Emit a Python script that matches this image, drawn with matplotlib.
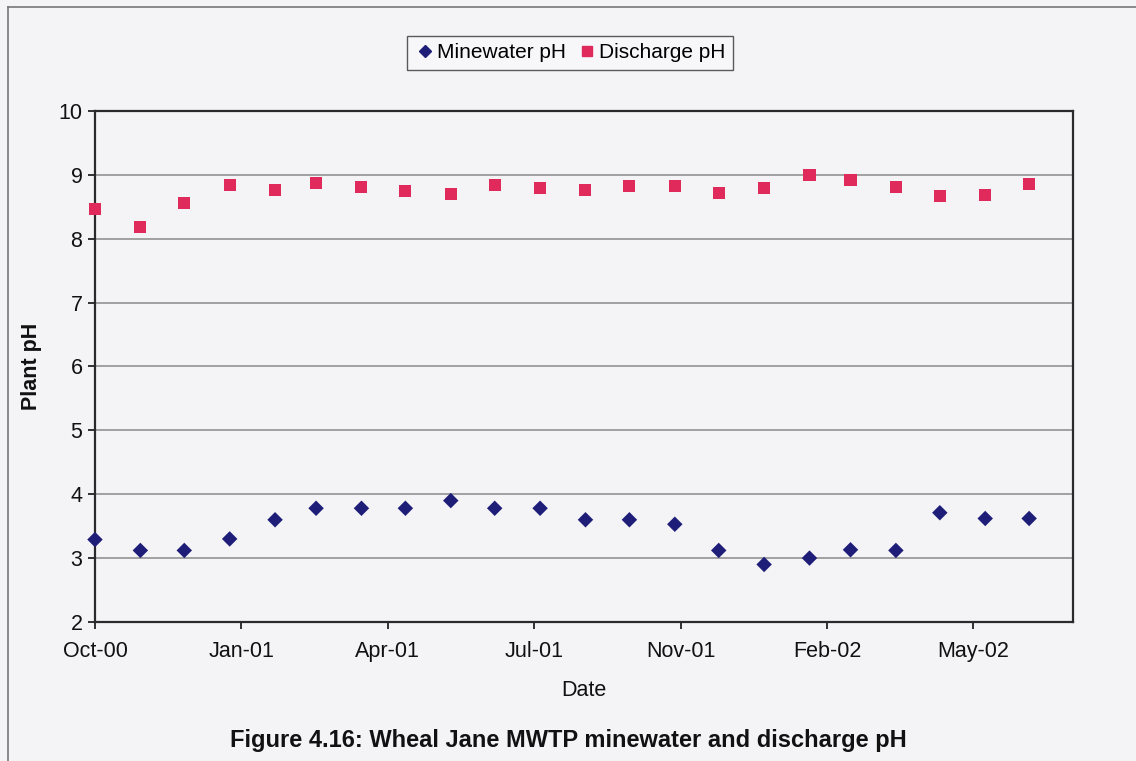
import datetime as dt
import matplotlib.pyplot as plt
import matplotlib.dates as mdates
from matplotlib.lines import Line2D

plt.rcParams['font.family'] = ['Liberation Sans', 'DejaVu Sans']

# monthly sampling, Oct 2000 - Jul 2002
months = [(2000, 10), (2000, 11), (2000, 12), (2001, 1), (2001, 2), (2001, 3),
          (2001, 4), (2001, 5), (2001, 6), (2001, 7), (2001, 8), (2001, 9),
          (2001, 10), (2001, 11), (2001, 12), (2002, 1), (2002, 2), (2002, 3),
          (2002, 4), (2002, 5), (2002, 6), (2002, 7)]
dates = [dt.date(y, m, 1) for y, m in months]

minewater_ph = [3.29, 3.12, 3.12, 3.30, 3.60, 3.78, 3.78, 3.78, 3.90, 3.78, 3.78,
                3.60, 3.60, 3.53, 3.12, 2.90, 3.00, 3.13, 3.12, 3.71, 3.62, 3.62]
discharge_ph = [8.46, 8.19, 8.56, 8.84, 8.77, 8.87, 8.81, 8.75, 8.70, 8.84, 8.79,
                8.76, 8.82, 8.82, 8.72, 8.79, 8.99, 8.92, 8.81, 8.67, 8.69, 8.86]

# axis runs from 1 Oct 2000 with a tick every 100 days
axis_start = dt.date(2000, 10, 1)
axis_end = axis_start + dt.timedelta(days=668)
tick_dates = [axis_start + dt.timedelta(days=100 * k) for k in range(7)]

bg = '#f4f3f6'
ink = '#111111'
fig = plt.figure(figsize=(11.36, 7.61), dpi=100, facecolor=bg)
ax = fig.add_axes([0.0836, 0.1827, 0.861, 0.6715], facecolor=bg)

ax.scatter(dates, minewater_ph, marker='D', s=62, color='#1e1e78', zorder=3,
           edgecolors='none', clip_on=False)
ax.scatter(dates, discharge_ph, marker='s', s=75, color='#e02a5c', zorder=3,
           edgecolors='none', clip_on=False)

ax.set_xlim(axis_start, axis_end)
ax.set_ylim(2, 10)
ax.set_yticks(range(2, 11))
ax.set_xticks(tick_dates)
ax.xaxis.set_major_formatter(mdates.DateFormatter('%b-%y'))
ax.grid(axis='y', color='#8a8a8a', linewidth=1.1)
ax.set_axisbelow(True)

for s in ax.spines.values():
    s.set_color('#2a2a2a')
    s.set_linewidth(1.6)

ax.tick_params(axis='both', labelsize=15.5, colors=ink, length=5,
               width=1.2, direction='out')
ax.tick_params(axis='x', pad=9)
ax.tick_params(axis='y', pad=4)

ax.set_xlabel('Date', fontsize=15.5, labelpad=13, color=ink)
ax.set_ylabel('Plant pH', fontsize=15.5, fontweight='bold', labelpad=12,
              color=ink)

handles = [
    Line2D([], [], marker='D', linestyle='none', color='#1e1e78', markersize=6),
    Line2D([], [], marker='s', linestyle='none', color='#e02a5c', markersize=7),
]
fig.legend(handles, ['Minewater pH', 'Discharge pH'], loc='center',
           bbox_to_anchor=(570 / 1136, 1 - 53 / 761), ncol=2, fontsize=15,
           frameon=True, fancybox=False, edgecolor='#333333', facecolor='#f8f8fa',
           handletextpad=0.1, columnspacing=0.5, borderpad=0.35, handlelength=1.0)

fig.text(568 / 1136, 1 - 740 / 761,
         'Figure 4.16: Wheal Jane MWTP minewater and discharge pH',
         ha='center', va='center', fontsize=17, fontweight='bold', color=ink)

# page frame lines
fig.add_artist(Line2D([8 / 1136, 8 / 1136], [0, 1 - 7 / 761],
                      transform=fig.transFigure, color='#777777', linewidth=1.2))
fig.add_artist(Line2D([8 / 1136, 1], [1 - 7 / 761, 1 - 7 / 761],
                      transform=fig.transFigure, color='#777777', linewidth=1.2))

fig.savefig('out.png', dpi=100, facecolor=bg)
